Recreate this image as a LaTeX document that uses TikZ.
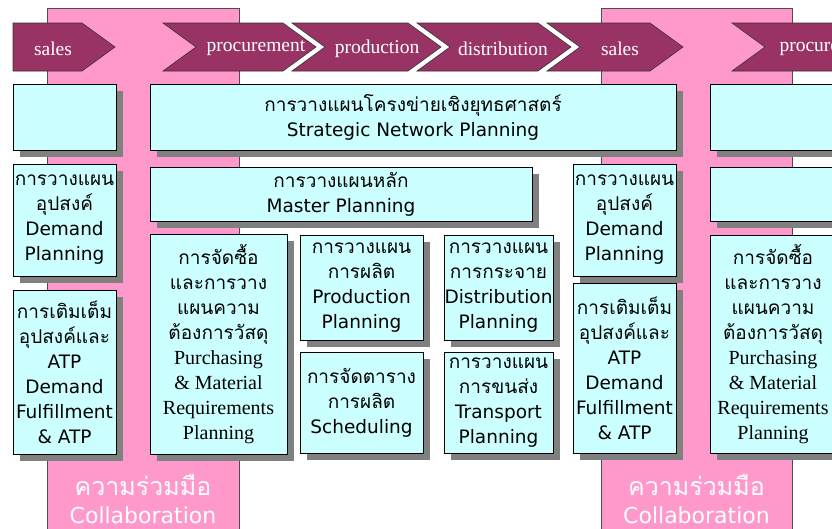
\documentclass[tikz,border=0pt]{standalone}
\usepackage{fontspec}
\setmainfont{Liberation Serif}
\newfontfamily\thaifont[Script=Thai]{Loma}
\newfontfamily\serifen{Liberation Serif}
\newfontfamily\sansen{DejaVu Sans}
\newcommand\latsans{\sansen\fontsize{18.5}{25}\selectfont}
\newcommand\latserif{\serifen\fontsize{20}{25}\selectfont}
\usepackage{tikz}
\usetikzlibrary{shadows}

\definecolor{bandpink}{HTML}{FF99CC}
\definecolor{chevfill}{HTML}{993366}
\definecolor{boxcyan}{HTML}{CCFFFF}
\definecolor{shadowgray}{HTML}{808080}

\begin{document}
\begin{tikzpicture}[
    x=1pt, y=-1pt,
    band/.style={fill=bandpink, draw=black!70, line width=0.6pt},
    chev/.style={fill=chevfill, draw=black!80, line width=0.6pt},
    gap/.style={draw=white, line width=4pt},
    chevtext/.style={text=white, font=\serifen\fontsize{19.5}{22}\selectfont},
    box/.style={draw=black, fill=boxcyan, line width=0.8pt, inner sep=0pt,
        align=center, font=\thaifont\fontsize{19}{25}\selectfont,
        drop shadow={shadow xshift=7pt, shadow yshift=-7pt, fill=shadowgray, opacity=1}},
    boxsize/.style 2 args={minimum width=#1, minimum height=#2},
    collab/.style={text=white, align=center, font=\thaifont\fontsize{25}{28}\selectfont}
]
    \useasboundingbox (0,0) rectangle (832,528);
    \clip (0,0) rectangle (832,528);

    % Collaboration bands
    \draw[band] (47,8) rectangle (239,540);
    \draw[band] (601,8) rectangle (792,540);

    % Process chevrons
    \draw[chev] (13,23) -- (82,23) -- (115,47) -- (82,71) -- (13,71) -- cycle;
    \draw[chev] (163,23) -- (283,23) -- (316,47) -- (283,71) -- (163,71) -- (196,47) -- cycle;
    \draw[gap] (292,21) -- (325,47) -- (292,73);
    \draw[chev] (292,23) -- (408,23) -- (441,47) -- (408,71) -- (292,71) -- (325,47) -- cycle;
    \draw[gap] (417,21) -- (450,47) -- (417,73);
    \draw[chev] (417,23) -- (538,23) -- (571,47) -- (538,71) -- (417,71) -- (450,47) -- cycle;
    \draw[gap] (547,21) -- (580,47) -- (547,73);
    \draw[chev] (547,23) -- (650,23) -- (683,47) -- (650,71) -- (547,71) -- (580,47) -- cycle;
    \draw[chev] (732,23) -- (860,23) -- (893,47) -- (860,71) -- (732,71) -- (765,47) -- cycle;

    \node[chevtext] (sales1) at (53,48.5) {sales};
    \node[chevtext] (proc1) at (256,48.5) {procurement};
    \node[chevtext] (prod) at (377,48.5) {production};
    \node[chevtext] (distr) at (503,48.5) {distribution};
    \node[chevtext] (sales2) at (620,48.5) {sales};
    \node[chevtext, anchor=west] (proc2) at (776,48.5) {procurement};

    % Left column
    \node[box, boxsize={103pt}{66pt}] (emptyL) at (64.5,117) {};
    \node[box, boxsize={103pt}{112pt}] (demandL) at (64.5,220)
        {การวางแผน\\อุปสงค์\\\latsans Demand\\\latsans Planning};
    \node[box, boxsize={103pt}{164pt}] (fulfilL) at (64.5,372)
        {การเติมเต็ม\\อุปสงค์และ\\\latsans ATP\\\latsans Demand\\\latsans Fulfillment\\\latsans \& ATP};

    % Planning modules
    \node[box, boxsize={526pt}{66pt}] (strategic) at (413,117)
        {การวางแผนโครงข่ายเชิงยุทธศาสตร์\\\latsans Strategic Network Planning};
    \node[box, boxsize={382pt}{54pt}] (master) at (341,194)
        {การวางแผนหลัก\\\latsans Master Planning};
    \node[box, boxsize={137pt}{220pt}] (purchL) at (218.5,344)
        {การจัดซื้อ\\และการวาง\\แผนความ\\ต้องการวัสดุ\\\latserif Purchasing\\\latserif \& Material\\\latserif Requirements\\\latserif Planning};
    \node[box, boxsize={123pt}{105pt}] (production) at (361.5,287.5)
        {การวางแผน\\การผลิต\\\latsans Production\\\latsans Planning};
    \node[box, boxsize={123pt}{101pt}] (scheduling) at (361.5,402.5)
        {การจัดตาราง\\การผลิต\\\latsans Scheduling};
    \node[box, boxsize={109pt}{105pt}] (distribution) at (498.5,287.5)
        {การวางแผน\\การกระจาย\\\latsans Distribution\\\latsans Planning};
    \node[box, boxsize={109pt}{101pt}] (transport) at (498.5,402.5)
        {การวางแผน\\การขนส่ง\\\latsans Transport\\\latsans Planning};

    % Right column
    \node[box, boxsize={103pt}{112pt}] (demandR) at (624.5,220)
        {การวางแผน\\อุปสงค์\\\latsans Demand\\\latsans Planning};
    \node[box, boxsize={103pt}{170pt}] (fulfilR) at (624.5,368)
        {การเติมเต็ม\\อุปสงค์และ\\\latsans ATP\\\latsans Demand\\\latsans Fulfillment\\\latsans \& ATP};
    \node[box, boxsize={140pt}{66pt}] (emptyR1) at (780,117) {};
    \node[box, boxsize={140pt}{54pt}] (emptyR2) at (780,194) {};
    \node[box, boxsize={126pt}{218pt}] (purchR) at (773,344)
        {การจัดซื้อ\\และการวาง\\แผนความ\\ต้องการวัสดุ\\\latserif Purchasing\\\latserif \& Material\\\latserif Requirements\\\latserif Planning};

    % Band labels
    \node[collab] (collabL) at (143,499)
        {ความร่วมมือ\\\sansen\fontsize{22}{28}\selectfont Collaboration};
    \node[collab] (collabR) at (696.5,499)
        {ความร่วมมือ\\\sansen\fontsize{22}{28}\selectfont Collaboration};
\end{tikzpicture}
\end{document}
